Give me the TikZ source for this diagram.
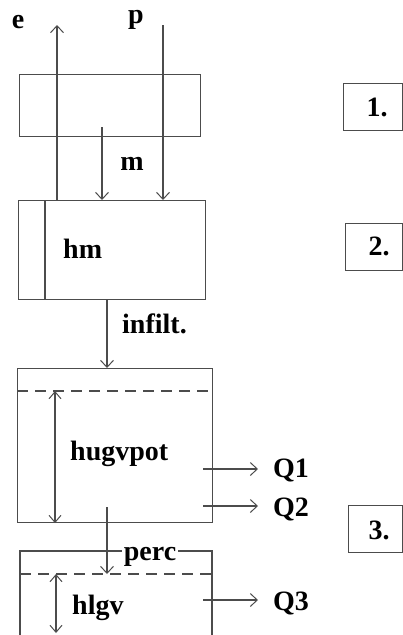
\documentclass[tikz,border=0pt]{standalone}
\usepackage{fontspec}
\setmainfont{Liberation Serif}
\usetikzlibrary{arrows.meta}
\begin{document}
\begin{tikzpicture}[x=1pt,y=-1pt,
  ln/.style={line width=1.1pt, draw=black!70},
  tip/.style={-{Straight Barb[length=7pt,width=13pt,line width=1pt]}},
  tiptwo/.style={{Straight Barb[length=7pt,width=12pt,line width=1pt]}-{Straight Barb[length=7pt,width=12pt,line width=1pt]}},
  lbl/.style={font=\fontsize{28}{32}\selectfont\bfseries, inner sep=0pt},
  boxn/.style={ln, draw, inner sep=0pt, anchor=north west},
  dsh/.style={ln, dash pattern=on 11pt off 7pt}]
\useasboundingbox (0,0) rectangle (403,635);

% boxes
\node[boxn, minimum width=181pt, minimum height=62pt] (b1) at (19,74) {};
\node[boxn, minimum width=187pt, minimum height=99pt] (b2) at (18,200) {};
\node[boxn, minimum width=195pt, minimum height=154pt] (b3) at (17,368) {};
\coordinate (b4bl) at (20,645);
\coordinate (b4tl) at (20,551);
\coordinate (b4tr) at (212,551);
\coordinate (b4br) at (212,645);
\draw[ln] (b4bl) -- (b4tl) -- (b4tr) -- (b4br);

% numbered boxes
\node[boxn, minimum width=59pt, minimum height=47pt] (n1box) at (343,83) {};
\node[boxn, minimum width=57pt, minimum height=47pt] (n2box) at (345,223) {};
\node[boxn, minimum width=54pt, minimum height=47pt] (n3box) at (348,505) {};
\node[lbl, anchor=base] (n1) at (377,116) {1.};
\node[lbl, anchor=base] (n2) at (379,255) {2.};
\node[lbl, anchor=base] (n3) at (379,539) {3.};

% top fluxes
\coordinate (eX) at (57,25);
\coordinate (pX) at (163,25);
\coordinate (mS) at (102,127);
\draw[ln,tip] (b2.north -| eX) -- (eX);
\draw[ln,tip] (pX) -- (pX |- b2.north);
\draw[ln,tip] (mS) -- (mS |- b2.north);
\node[lbl, anchor=base] (e) at (18,28) {e};
\node[lbl, anchor=base] (p) at (136,23) {p};
\node[lbl, anchor=base] (m) at (132,170) {m};

% box 2
\draw[ln] ([xshift=27pt]b2.north west) -- ([xshift=27pt]b2.south west);
\node[lbl, anchor=base west] (hm) at (63,258) {hm};

% infiltration
\coordinate (iX) at (107,0);
\draw[ln,tip] (b2.south -| iX) -- (b3.north -| iX);
\node[lbl, anchor=base west] (infilt) at (122,333) {infilt.};

% box 3
\coordinate (d3l) at (17,391);
\coordinate (d3r) at (212,391);
\draw[dsh] (d3l) -- (d3r);
\coordinate (h3) at (55,391);
\draw[ln,tiptwo] (h3) -- (h3 |- b3.south);
\node[lbl, anchor=base west] (hugvpot) at (70,460) {hugvpot};

\coordinate (q1s) at (203,469);
\coordinate (q1e) at (258,469);
\draw[ln,tip] (q1s) -- (q1e);
\node[lbl, anchor=base west] (Q1) at (273,477) {Q1};
\coordinate (q2s) at (203,506);
\coordinate (q2e) at (258,506);
\draw[ln,tip] (q2s) -- (q2e);
\node[lbl, anchor=base west] (Q2) at (273,516) {Q2};

% box 4
\coordinate (d4l) at (20,574);
\coordinate (d4r) at (212,574);
\draw[dsh] (d4l) -- (d4r);
\coordinate (percS) at (107,507);
\draw[ln,tip] (percS) -- (percS |- d4l);
\node[lbl, anchor=base, fill=white, inner xsep=2pt] (perc) at (150,560) {perc};
\coordinate (h4a) at (56,574);
\coordinate (h4b) at (56,633);
\draw[ln,tiptwo] (h4a) -- (h4b);
\node[lbl, anchor=base west] (hlgv) at (72,614) {hlgv};
\coordinate (q3s) at (203,600);
\coordinate (q3e) at (258,600);
\draw[ln,tip] (q3s) -- (q3e);
\node[lbl, anchor=base west] (Q3) at (273,610) {Q3};
\end{tikzpicture}
\end{document}
